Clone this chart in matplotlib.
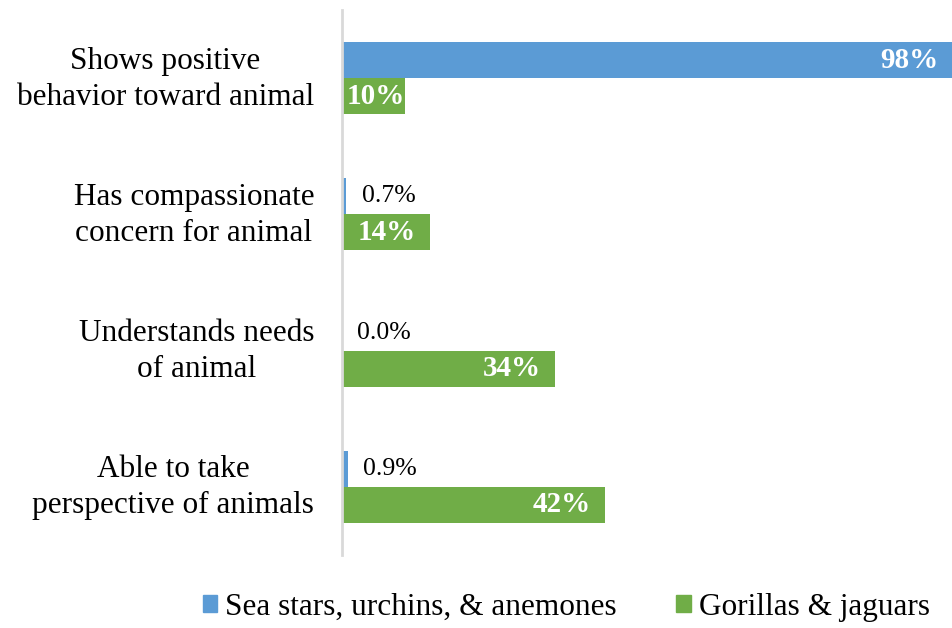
import matplotlib.pyplot as plt
import matplotlib.transforms as mtransforms
import numpy as np
from matplotlib.patches import Patch

plt.rcParams['font.family'] = ['Liberation Serif', 'DejaVu Serif']

categories = ["Shows positive\nbehavior toward animal",
              "Has compassionate\nconcern for animal",
              "Understands needs\nof animal",
              "Able to take\nperspective of animals"]
sea_stars = [98, 0.7, 0.0, 0.9]
gorillas = [10, 14, 34, 42]
sea_labels = ["98%", "0.7%", "0.0%", "0.9%"]
gor_labels = ["10%", "14%", "34%", "42%"]

blue = "#5B9BD5"
green = "#70AD47"

fig = plt.figure(figsize=(9.52, 6.28), dpi=100)
ax = fig.add_axes([342 / 952, 1 - 555 / 628, 1 - 342 / 952, 545 / 628])

y = np.arange(len(categories))
h = 0.265
bars_b = ax.barh(y - h / 2, sea_stars, height=h, color=blue)
bars_g = ax.barh(y + h / 2, gorillas, height=h, color=green)

xmax = 97.6
ax.set_xlim(0, xmax)
ax.set_ylim(len(categories) - 0.5, -0.5)
ax.set_yticks(y)
ax.set_yticklabels(categories, fontsize=22.5, ha='right', multialignment='center',
                   linespacing=1.32)
ax.tick_params(axis='y', length=0, pad=20)
ax.set_xticks([])
for s in ['top', 'right', 'bottom']:
    ax.spines[s].set_visible(False)
ax.spines['left'].set_color('#d9d9d9')
ax.spines['left'].set_linewidth(2)

# nudge the category labels up a little
shift = mtransforms.ScaledTranslation(0, 6 / 100, fig.dpi_scale_trans)
for lbl in ax.get_yticklabels():
    lbl.set_transform(lbl.get_transform() + shift)

# value labels: inside end when the bar is wide, otherwise just past the end
def label(bar_set, values, texts):
    for bar, v, t in zip(bar_set, values, texts):
        yc = bar.get_y() + bar.get_height() / 2
        if v >= 12:
            ax.annotate(t, (min(v, xmax), yc), xytext=(-10, 0),
                        textcoords='offset points', ha='right', va='center',
                        color='white', fontsize=21, fontweight='bold',
                        annotation_clip=False)
        elif v >= 5:
            ax.annotate(t, (v / 2, yc), xytext=(2, 0), textcoords='offset points',
                        ha='center', va='center', color='white',
                        fontsize=21, fontweight='bold')
        else:
            ax.annotate(t, (v, yc), xytext=(11, 0), textcoords='offset points',
                        ha='left', va='center', color='black', fontsize=18.5)

label(bars_b, sea_stars, sea_labels)
label(bars_g, gorillas, gor_labels)

handles = [Patch(color=blue, label="Sea stars, urchins, & anemones"),
           Patch(color=green, label="Gorillas & jaguars")]
fig.legend(handles=handles, loc='center', bbox_to_anchor=(0.595, 0.033), ncol=2,
           frameon=False, fontsize=22.5, handlelength=0.45, handleheight=0.45,
           handletextpad=0.26, columnspacing=1.9)

fig.savefig("out.png", dpi=100)
